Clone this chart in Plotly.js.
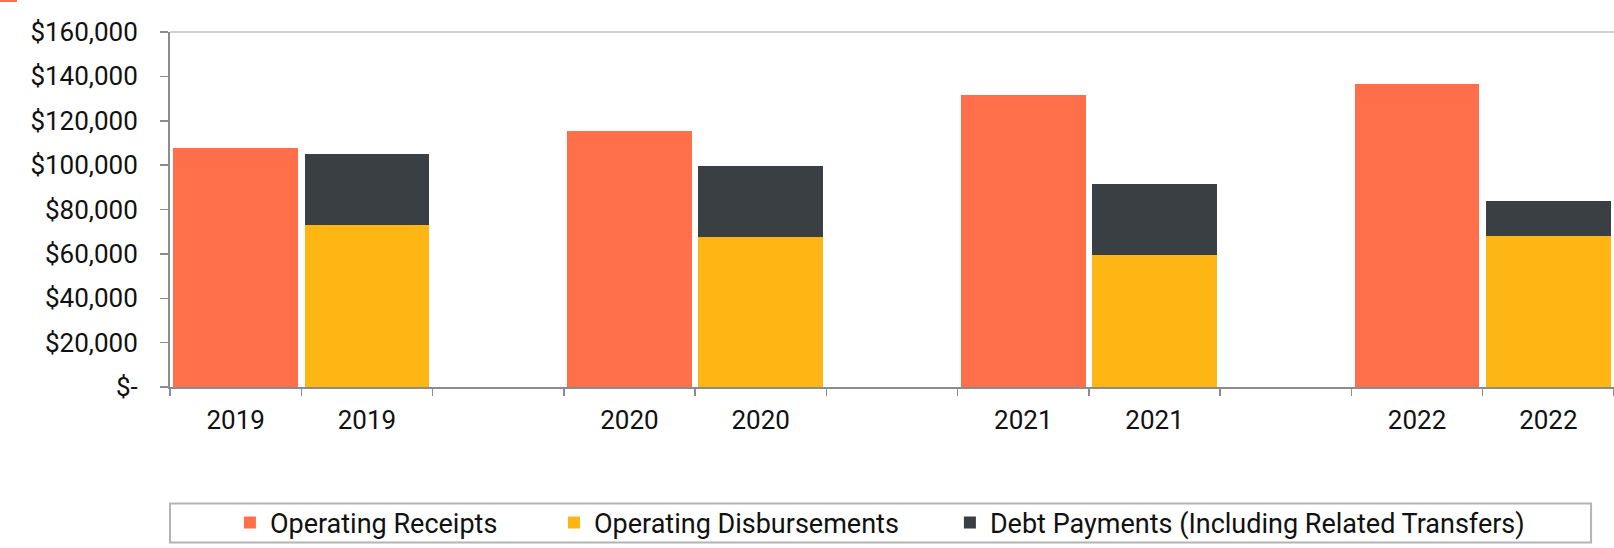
<!DOCTYPE html>
<html>
<head>
<meta charset="utf-8">
<script src="https://cdn.plot.ly/plotly-3.0.1.min.js"></script>
<style>
  html, body { margin: 0; padding: 0; background: #ffffff; }
  #chart { width: 1614px; height: 548px; }
  #corner { position: absolute; left: 0; top: 0; width: 17px; height: 2px; background: #FF704A; z-index: 5; }
</style>
</head>
<body>
<div id="corner"></div>
<div id="chart"></div>
<script>
// ---- Data ----
const years = ['2019', '2020', '2021', '2022'];
const operatingReceipts = [107500, 115500, 131400, 136600];
const operatingDisbursements = [73000, 67400, 59400, 68000];
const debtPayments = [31800, 32300, 32200, 15800];
const seriesNames = ['Operating Receipts', 'Operating Disbursements', 'Debt Payments (Including Related Transfers)'];
const yTickVals = [0, 20000, 40000, 60000, 80000, 100000, 120000, 140000, 160000];
const yTickText = ['$-', '$20,000', '$40,000', '$60,000', '$80,000', '$100,000', '$120,000', '$140,000', '$160,000'];

// ---- Positions: each year = receipts slot, disbursements slot, empty slot ----
const xReceipts = years.map((y, i) => 3 * i);
const xDisb = years.map((y, i) => 3 * i + 1);
const nSlots = years.length * 3 - 1;
const xTickVals = [];
const xTickText = [];
years.forEach((y, i) => { xTickVals.push(3 * i, 3 * i + 1); xTickText.push(y, y); });
const boundaries = [];
for (let k = 0; k <= nSlots; k++) boundaries.push(k - 0.5);

const colors = ['#FF704A', '#FDB614', '#3A3F44'];
const axisGrey = '#8c8c8c';
const font = 'Roboto, "Open Sans", sans-serif';
const textColor = '#111111';

const traces = [
  { type: 'bar', name: seriesNames[0], x: xReceipts, y: operatingReceipts, legend: 'legend',
    marker: { color: colors[0], line: { width: 0 } } },
  { type: 'bar', name: seriesNames[1], x: xDisb, y: operatingDisbursements, legend: 'legend2',
    marker: { color: colors[1], line: { width: 0 } } },
  { type: 'bar', name: seriesNames[2], x: xDisb, y: debtPayments, legend: 'legend3',
    marker: { color: colors[2], line: { width: 0 } } }
];

function legendAt(xp) {
  return {
    orientation: 'h', x: xp, xanchor: 'left', y: -0.383, yanchor: 'middle',
    font: { family: font, size: 27, color: textColor },
    itemwidth: 30, bgcolor: 'rgba(0,0,0,0)', borderwidth: 0
  };
}

const layout = {
  width: 1614, height: 548,
  margin: { l: 170, r: 0, t: 32, b: 161, pad: 0 },
  paper_bgcolor: '#ffffff', plot_bgcolor: '#ffffff',
  barmode: 'stack', bargap: 0.05,
  font: { family: font, size: 26, color: textColor },
  showlegend: true,
  legend: legendAt(0.0415),
  legend2: legendAt(0.2659),
  legend3: legendAt(0.5401),
  xaxis: {
    type: 'linear', range: [-0.5, nSlots - 0.5], fixedrange: true,
    tickmode: 'array', tickvals: xTickVals, ticktext: xTickText,
    ticks: '', showgrid: false, zeroline: false,
    showline: true, linecolor: axisGrey, linewidth: 2,
    tickfont: { family: font, size: 26, color: textColor },
    ticklabelstandoff: 9,
    minor: { tickmode: 'array', tickvals: boundaries, ticks: 'outside', ticklen: 7, tickwidth: 1.5, tickcolor: axisGrey, showgrid: false }
  },
  yaxis: {
    range: [0, 160000], fixedrange: true,
    tickmode: 'array', tickvals: yTickVals, ticktext: yTickText,
    ticks: 'outside', ticklen: 8, tickwidth: 1.5, tickcolor: axisGrey,
    showgrid: false, zeroline: false,
    showline: true, linecolor: axisGrey, linewidth: 2,
    tickfont: { family: font, size: 26, color: textColor },
    ticklabelstandoff: 17
  },
  shapes: [
    { type: 'line', xref: 'paper', yref: 'paper', x0: 0, x1: 1, y0: 1, y1: 1,
      line: { color: '#c0c0c0', width: 1.5 } },
    { type: 'rect', xref: 'paper', yref: 'paper', x0: 0, x1: 0.9841, y0: -0.4378, y1: -0.3281,
      line: { color: '#b4b4b4', width: 2 }, fillcolor: 'rgba(0,0,0,0)' }
  ]
};

Plotly.newPlot('chart', traces, layout, { displayModeBar: false, staticPlot: true });
</script>
</body>
</html>
